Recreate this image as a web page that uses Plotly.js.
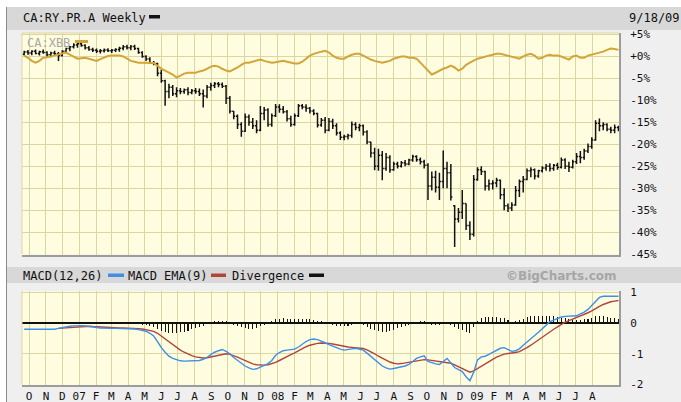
<!DOCTYPE html>
<html><head><meta charset="utf-8">
<script src="https://cdn.plot.ly/plotly-3.0.1.min.js"></script>
<style>html,body{margin:0;padding:0;background:#fff;}#chart{width:681px;height:402px;}</style>
</head><body><div id="chart"></div>
<script>
// ---- data (percent change, weekly bars from 2006-09-22) ----
const firstWeek = '2006-09-22';
const priceOpen = [0.5,1.0,0.8,1.2,0.7,1.1,0.9,0.4,0.8,0.6,
0.2,1.2,1.8,2.2,2.6,2.9,2.5,2.0,1.6,1.4,
1.2,1.3,1.5,1.3,1.4,1.6,1.9,2.2,2.0,2.3,
1.8,0.9,0.0,-0.6,-1.4,-1.6,-3.8,-5.5,-8.0,-7.0,
-8.5,-7.8,-8.0,-7.6,-8.2,-7.8,-8.0,-8.5,-9.0,-7.0,
-6.6,-6.2,-6.4,-6.8,-9.5,-12.5,-13.6,-15.5,-17.0,-13.8,
-15.0,-15.8,-16.8,-13.0,-12.2,-15.5,-13.5,-11.5,-12.0,-12.6,
-14.2,-15.5,-13.5,-11.2,-11.5,-11.8,-12.4,-13.0,-15.6,-14.5,
-16.8,-14.8,-15.8,-17.4,-18.4,-18.2,-18.0,-15.5,-16.2,-15.8,
-17.2,-19.5,-22.0,-25.0,-22.5,-25.5,-23.0,-25.8,-24.5,-25.0,
-24.2,-24.5,-23.6,-22.8,-23.5,-24.0,-24.8,-29.5,-27.5,-29.8,
-28.5,-25.5,-26.5,-34.0,-37.0,-35.5,-33.5,-38.5,-40.5,-28.0,
-25.8,-26.2,-29.5,-29.0,-28.8,-28.2,-31.5,-34.0,-34.5,-33.8,
-30.5,-28.5,-28.0,-26.0,-25.8,-27.2,-26.0,-25.4,-25.0,-25.5,
-24.8,-25.2,-23.6,-25.0,-25.2,-24.0,-22.8,-23.0,-21.5,-20.5,
-19.0,-15.2,-15.8,-15.5,-16.6,-16.8,-16.2];
const priceHigh = [1.3,1.5,1.4,1.6,1.3,1.6,1.2,1.1,1.3,1.0,
1.4,2.0,2.4,3.0,3.2,3.3,2.8,2.4,2.0,1.8,
1.7,1.8,1.9,1.7,1.9,2.2,2.6,2.7,2.6,2.7,
2.0,1.2,0.3,-0.2,-1.0,-1.4,-3.0,-5.3,-6.2,-6.5,
-7.0,-7.2,-7.3,-7.0,-7.4,-7.2,-7.3,-7.5,-6.5,-6.0,
-5.8,-5.8,-5.9,-6.5,-9.0,-12.4,-13.2,-15.0,-13.0,-13.2,
-14.0,-14.5,-11.3,-11.5,-11.8,-13.0,-10.8,-10.9,-11.3,-12.2,
-13.5,-13.0,-10.8,-10.8,-10.9,-11.5,-12.0,-12.8,-14.0,-13.8,
-14.0,-14.2,-15.2,-17.0,-17.8,-17.6,-14.8,-15.0,-15.3,-15.5,
-16.8,-19.4,-20.8,-21.0,-21.5,-22.0,-22.5,-24.0,-24.0,-23.8,
-23.6,-23.3,-22.4,-22.5,-23.0,-23.5,-24.3,-26.2,-26.0,-26.5,
-21.4,-24.0,-24.5,-33.8,-34.5,-30.4,-33.5,-37.5,-27.0,-25.2,
-25.0,-26.0,-28.0,-28.2,-27.6,-28.0,-30.0,-33.5,-33.2,-29.5,
-28.0,-27.2,-25.5,-25.2,-25.5,-25.8,-25.0,-24.5,-24.3,-24.5,
-24.2,-23.0,-23.2,-24.0,-23.5,-22.0,-21.5,-21.0,-19.8,-18.4,
-14.5,-14.1,-15.0,-15.2,-16.0,-15.5,-15.8];
const priceLow = [0.2,0.4,0.3,0.5,0.2,0.6,0.0,-0.2,0.2,-1.0,
0.0,0.8,1.2,1.8,2.0,2.2,1.6,1.3,1.0,0.8,
0.7,0.9,1.0,0.8,1.0,1.1,1.4,1.6,1.4,1.5,
0.6,-0.3,-1.0,-1.6,-2.0,-4.5,-6.0,-11.2,-9.5,-9.0,
-9.3,-8.6,-8.5,-8.8,-8.6,-8.5,-9.0,-11.6,-9.5,-7.8,
-7.2,-7.0,-7.2,-10.8,-13.0,-14.3,-16.5,-18.3,-17.2,-15.8,
-16.5,-17.5,-17.0,-14.5,-16.0,-16.0,-13.8,-12.8,-13.0,-14.8,
-16.0,-15.8,-13.8,-12.0,-12.6,-13.0,-13.4,-16.2,-16.0,-17.5,
-17.0,-16.5,-18.0,-19.0,-19.1,-18.9,-18.5,-16.8,-17.0,-18.0,
-20.0,-23.0,-25.9,-26.0,-28.2,-26.0,-26.5,-26.0,-25.5,-25.3,
-25.0,-24.8,-24.0,-24.0,-24.6,-25.5,-32.7,-30.5,-31.0,-32.7,
-30.0,-30.0,-32.8,-43.4,-37.8,-37.0,-39.5,-41.8,-41.0,-28.3,
-27.0,-30.5,-30.5,-30.3,-29.8,-32.5,-35.0,-35.4,-35.2,-34.0,
-32.0,-31.0,-28.2,-27.5,-28.0,-27.6,-26.4,-26.0,-26.2,-26.0,
-25.8,-25.5,-25.6,-26.3,-25.5,-24.5,-24.3,-23.5,-22.0,-21.0,
-19.2,-17.0,-16.8,-17.0,-17.5,-17.5,-17.0];
const priceClose = [1.0,0.8,1.2,0.7,1.1,0.9,0.4,0.8,0.6,0.2,
1.2,1.8,2.2,2.6,2.9,2.5,2.0,1.6,1.4,1.2,
1.3,1.5,1.3,1.4,1.6,1.9,2.2,2.0,2.3,1.8,
0.9,0.0,-0.6,-1.4,-1.6,-3.8,-5.5,-8.0,-7.0,-8.5,
-7.8,-8.0,-7.6,-8.2,-7.8,-8.0,-8.5,-9.0,-7.0,-6.6,
-6.2,-6.4,-6.8,-9.5,-12.5,-13.6,-15.5,-17.0,-13.8,-15.0,
-15.8,-16.8,-13.0,-12.2,-15.5,-13.5,-11.5,-12.0,-12.6,-14.2,
-15.5,-13.5,-11.2,-11.5,-11.8,-12.4,-13.0,-15.6,-14.5,-16.8,
-14.8,-15.8,-17.4,-18.4,-18.2,-18.0,-15.5,-16.2,-15.8,-17.2,
-19.5,-22.0,-25.0,-22.5,-25.5,-23.0,-25.8,-24.5,-25.0,-24.2,
-24.5,-23.6,-22.8,-23.5,-24.0,-24.8,-29.5,-27.5,-29.8,-28.5,
-25.5,-26.5,-32.0,-37.0,-35.5,-33.5,-38.5,-40.5,-28.0,-25.8,
-26.2,-29.5,-29.0,-28.8,-28.2,-31.5,-34.0,-34.5,-33.8,-30.5,
-28.5,-28.0,-26.0,-25.8,-27.2,-26.0,-25.4,-25.0,-25.5,-24.8,
-25.2,-23.6,-25.0,-25.2,-24.0,-22.8,-23.0,-21.5,-20.5,-19.0,
-15.2,-15.8,-15.5,-16.6,-16.8,-16.2,-16.5];
const xbb = [0.2,-0.3,-1.0,-1.4,-1.0,-0.3,-0.2,0,0.2,0.4,
0.6,0.9,0.4,0,-0.5,-0.4,-0.3,-0.5,-0.7,-1.0,
-0.6,-0.3,0.1,0.2,0.2,0.2,0,-0.5,-1.0,-1.2,
-1.4,-1.4,-1.4,-1.4,-1.5,-2.1,-2.8,-3.2,-3.7,-4.1,
-4.8,-4.4,-3.9,-3.7,-3.7,-3.7,-3.4,-3.2,-2.8,-2.3,
-2.1,-2.3,-2.8,-3.2,-3.4,-3.0,-2.5,-1.9,-1.4,-1.4,
-1.2,-1.0,-0.7,-1.0,-1.2,-1.4,-1.3,-1.2,-1.0,-1.2,
-1.4,-1.6,-1.6,-1.2,-0.5,0.2,0.6,0.9,1.1,1.3,
0.9,0.2,-0.3,-0.5,-0.5,0,0.4,0.6,0.6,0.2,
-0.3,-0.7,-1.0,-1.2,-1.4,-1.2,-1.0,-0.5,-0.3,0,
0,-0.3,-0.3,-0.5,-1.4,-2.3,-3.4,-4.1,-3.7,-3.2,
-2.8,-2.5,-2.1,-2.5,-3.2,-2.8,-1.9,-1.4,-1.0,-0.5,
-0.3,0,0.2,0.4,0.6,0.6,0.4,0.2,0,-0.3,
-0.5,0,0.4,0.6,0.2,-0.5,-0.3,0.2,0.4,0.2,
0.2,0,-0.3,-0.7,0,0.2,-0.3,-0.3,0.2,0.4,
0.6,0.9,1.1,1.5,1.8,1.7,1.5];
const macd = [-0.20,-0.20,-0.20,-0.20,-0.20,-0.20,-0.20,-0.20,-0.20,-0.17,
-0.14,-0.12,-0.10,-0.09,-0.08,-0.08,-0.09,-0.10,-0.12,-0.14,
-0.16,-0.17,-0.17,-0.17,-0.17,-0.17,-0.17,-0.17,-0.17,-0.19,
-0.21,-0.23,-0.27,-0.33,-0.42,-0.60,-0.80,-0.95,-1.08,-1.15,
-1.20,-1.23,-1.24,-1.24,-1.24,-1.23,-1.22,-1.18,-1.12,-1.03,
-0.95,-0.90,-0.86,-0.92,-1.00,-1.12,-1.22,-1.32,-1.40,-1.46,
-1.51,-1.49,-1.43,-1.38,-1.32,-1.22,-1.05,-0.96,-0.90,-0.88,
-0.86,-0.85,-0.78,-0.68,-0.60,-0.54,-0.52,-0.54,-0.58,-0.64,
-0.70,-0.75,-0.81,-0.85,-0.88,-0.87,-0.84,-0.82,-0.84,-0.88,
-0.98,-1.08,-1.18,-1.30,-1.40,-1.46,-1.50,-1.48,-1.46,-1.44,
-1.40,-1.35,-1.25,-1.15,-1.10,-1.07,-1.25,-1.30,-1.33,-1.35,
-1.25,-1.15,-1.30,-1.45,-1.52,-1.58,-1.75,-1.88,-1.60,-1.20,
-1.10,-1.08,-1.02,-0.96,-0.90,-0.82,-0.80,-0.86,-0.92,-0.90,
-0.84,-0.72,-0.62,-0.50,-0.40,-0.30,-0.18,-0.05,0.05,0.10,
0.15,0.20,0.22,0.22,0.22,0.24,0.30,0.36,0.45,0.58,
0.72,0.84,0.88,0.88,0.88,0.88,0.88];
const macdEma = [null,null,null,null,null,null,null,null,null,-0.17,
-0.16,-0.15,-0.13,-0.12,-0.11,-0.10,-0.10,-0.10,-0.11,-0.12,
-0.13,-0.14,-0.15,-0.16,-0.16,-0.16,-0.16,-0.16,-0.16,-0.17,
-0.18,-0.19,-0.21,-0.23,-0.27,-0.33,-0.42,-0.52,-0.62,-0.72,
-0.80,-0.88,-0.95,-1.01,-1.06,-1.10,-1.13,-1.14,-1.13,-1.10,
-1.07,-1.04,-1.01,-1.00,-1.02,-1.06,-1.11,-1.17,-1.23,-1.29,
-1.33,-1.36,-1.37,-1.37,-1.36,-1.33,-1.28,-1.22,-1.15,-1.09,
-1.03,-0.97,-0.90,-0.84,-0.77,-0.72,-0.68,-0.66,-0.65,-0.65,
-0.66,-0.68,-0.71,-0.74,-0.76,-0.78,-0.79,-0.80,-0.81,-0.83,
-0.87,-0.93,-1.00,-1.08,-1.15,-1.22,-1.27,-1.31,-1.33,-1.32,
-1.30,-1.28,-1.26,-1.23,-1.20,-1.19,-1.20,-1.22,-1.24,-1.26,
-1.27,-1.28,-1.31,-1.36,-1.42,-1.48,-1.54,-1.60,-1.56,-1.48,
-1.40,-1.32,-1.25,-1.18,-1.11,-1.05,-1.01,-0.99,-0.98,-0.96,
-0.93,-0.87,-0.80,-0.72,-0.63,-0.55,-0.46,-0.37,-0.28,-0.20,
-0.12,-0.04,0.03,0.08,0.13,0.17,0.22,0.28,0.34,0.40,
0.48,0.55,0.61,0.66,0.70,0.72,0.74];
const divergence = [0,0,0,0,0,0,0,0,0,0,
0,0,0,0.04,0.05,0.05,0.04,0.02,-0.02,-0.03,
-0.04,-0.04,-0.04,-0.03,-0.03,-0.03,-0.02,-0.03,-0.03,-0.04,
-0.04,-0.05,-0.06,-0.08,-0.12,-0.18,-0.24,-0.30,-0.33,-0.33,
-0.32,-0.30,-0.28,-0.24,-0.20,-0.16,-0.12,-0.08,-0.03,0.04,
0.07,0.08,0.08,0.06,0.02,-0.06,-0.10,-0.14,-0.16,-0.18,
-0.18,-0.15,-0.10,-0.05,0.02,0.08,0.12,0.15,0.16,0.15,
0.14,0.13,0.13,0.14,0.12,0.12,0.10,0.08,0.06,0.02,
-0.03,-0.06,-0.08,-0.09,-0.10,-0.08,-0.05,-0.04,-0.04,-0.06,
-0.12,-0.18,-0.22,-0.26,-0.28,-0.28,-0.26,-0.22,-0.16,-0.12,
-0.08,-0.05,0.02,0.05,0.07,0.06,-0.02,-0.05,-0.06,-0.07,
0.02,0.04,-0.05,-0.12,-0.18,-0.22,-0.28,-0.33,-0.12,0.08,
0.18,0.20,0.20,0.19,0.19,0.18,0.16,0.10,0.05,0.06,
0.10,0.14,0.19,0.22,0.24,0.24,0.24,0.24,0.24,0.22,
0.20,0.18,0.16,0.14,0.11,0.10,0.10,0.12,0.14,0.18,
0.22,0.24,0.22,0.20,0.18,0.16,0.14];
const monthLabels = ['O','N','D','07','F','M','A','M','J','J','A','S','O','N','D','08','F','M','A','M','J','J','A','S','O','N','D','09','F','M','A','M','J','J','A'];
const firstMonth = [2006, 9]; // Oct 2006 (0-based month)
const pctTicks = [5,0,-5,-10,-15,-20,-25,-30,-35,-40,-45];
const pctLabels = ['+5%','+0%','-5%','-10%','-15%','-20%','-25%','-30%','-35%','-40%','-45%'];
const macdTicks = [1,0,-1,-2];
const macdLabels = ['1','0','-1','-2'];

// ---- build dates ----
function iso(t){return new Date(t).toISOString().slice(0,10);}
const t0 = Date.parse(firstWeek + 'T00:00:00Z');
const weeks = priceClose.map((_, i) => iso(t0 + i*7*86400000));
const monthTicks = monthLabels.map((_, k) => iso(Date.UTC(firstMonth[0], firstMonth[1] + k, 1)));

// ---- geometry helpers (pixels -> paper) ----
const W = 681, H = 402;
const px = v => v / W, py = v => 1 - v / H;
const L = 22, R = 619;
const xRange = ['2006-09-18', '2009-09-19'];
const MONO = 'DejaVu Sans Mono';
const GRID = '#ddd6a2', BG = '#fffde0', EDGE = '#9c9c9c';
const GOLD = '#d3a538', BLUE = '#3d8fe8', RED = '#b0453a';

const traces = [
  {type:'scatter', mode:'lines', x:weeks, y:xbb, xaxis:'x2', yaxis:'y2',
   line:{color:GOLD, width:2}, hoverinfo:'skip', showlegend:false},
  {type:'ohlc', x:weeks, open:priceOpen, high:priceHigh, low:priceLow, close:priceClose,
   xaxis:'x2', yaxis:'y2', tickwidth:0.4,
   increasing:{line:{color:'#111', width:1.5}}, decreasing:{line:{color:'#111', width:1.5}},
   hoverinfo:'skip', showlegend:false},
  {type:'bar', x:weeks, y:divergence, xaxis:'x', yaxis:'y',
   marker:{color:'#111', line:{width:0}}, width:weeks.map(()=>1.9*86400000),
   hoverinfo:'skip', showlegend:false},
  {type:'scatter', mode:'lines', x:weeks, y:macdEma, xaxis:'x', yaxis:'y',
   line:{color:RED, width:1.4}, hoverinfo:'skip', showlegend:false},
  {type:'scatter', mode:'lines', x:weeks, y:macd, xaxis:'x', yaxis:'y',
   line:{color:BLUE, width:1.4}, hoverinfo:'skip', showlegend:false}
];

const ann = (t, x, y, opts={}) => Object.assign({text:t, x:px(x), y:py(y), xref:'paper', yref:'paper',
  showarrow:false, xanchor:'left', yanchor:'middle', font:{family:MONO, size:12, color:'#111'}}, opts);
const rect = (x0,y0,x1,y1,fill) => ({type:'rect', xref:'paper', yref:'paper', x0:px(x0), x1:px(x1), y0:py(y1), y1:py(y0), fillcolor:fill, line:{width:0}, layer:'below'});
const line = (x0,y0,x1,y1,color,w) => ({type:'line', xref:'paper', yref:'paper', x0:px(x0), x1:px(x1), y0:py(y0), y1:py(y1), line:{color:color, width:w}});

const layout = {
  width:W, height:H, margin:{l:0,r:0,t:0,b:0},
  paper_bgcolor:'#efefef', plot_bgcolor:BG, bargap:0, showlegend:false,
  xaxis2:{domain:[px(L), px(R)], anchor:'y2', type:'date', range:xRange,
    tickvals:monthTicks, showticklabels:false, ticks:'', gridcolor:GRID, gridwidth:1,
    showline:true, linecolor:EDGE, linewidth:2, rangeslider:{visible:false}, fixedrange:true},
  yaxis2:{domain:[py(254.5), py(33)], anchor:'x2', side:'right', range:[-45.1, 5.35],
    tickvals:pctTicks, ticktext:pctLabels, ticks:'', gridcolor:GRID, gridwidth:1, zeroline:false,
    showline:true, linecolor:EDGE, linewidth:2, ticklabelstandoff:7,
    tickfont:{family:MONO, size:11, color:'#111'}, fixedrange:true},
  xaxis:{domain:[px(L), px(R)], anchor:'y', type:'date', range:xRange,
    tickvals:monthTicks, ticktext:monthLabels, ticks:'', gridcolor:GRID, gridwidth:1,
    showline:true, linecolor:EDGE, linewidth:2, tickangle:0,
    tickfont:{family:MONO, size:11, color:'#111'}, fixedrange:true},
  yaxis:{domain:[py(385), py(291)], anchor:'x', side:'right', range:[-2.02, 1.05],
    tickvals:macdTicks, ticktext:macdLabels, ticks:'', gridcolor:GRID, gridwidth:1,
    zeroline:true, zerolinecolor:'#111', zerolinewidth:1.5,
    showline:true, linecolor:EDGE, linewidth:2, ticklabelstandoff:7,
    tickfont:{family:MONO, size:11, color:'#111'}, fixedrange:true},
  shapes:[
    rect(0,0,W,7,'#ffffff'),
    rect(0,0,6,H,'#ffffff'),
    rect(6,7,W,30,'#d8d8d8'),
    rect(6,267,W,283,'#d8d8d8'),
    line(6.5,7,6.5,H,'#8a8a8a',1),
    line(L,33,R,33,GRID,1),
    line(L,33,L,254,GRID,1),
    line(L,291,L,385,GRID,1),
    {type:'rect', xref:'paper', yref:'paper', x0:px(149), x1:px(160), y0:py(18.5), y1:py(15), fillcolor:'#111', line:{width:0}},
    {type:'rect', xref:'paper', yref:'paper', x0:px(75), x1:px(88), y0:py(43), y1:py(40), fillcolor:GOLD, line:{width:0}},
    {type:'rect', xref:'paper', yref:'paper', x0:px(108), x1:px(124), y0:py(277), y1:py(273.5), fillcolor:BLUE, line:{width:0}},
    {type:'rect', xref:'paper', yref:'paper', x0:px(211), x1:px(226), y0:py(277), y1:py(273.5), fillcolor:RED, line:{width:0}},
    {type:'rect', xref:'paper', yref:'paper', x0:px(309), x1:px(324), y0:py(277), y1:py(273.5), fillcolor:'#111', line:{width:0}}
  ],
  annotations:[
    ann('CA:RY.PR.A Weekly', 21, 17.5),
    ann('9/18/09', 627, 17.5),
    ann('CA:XBB', 25, 43, {font:{family:MONO, size:12, color:'#a8a8a8'}}),
    ann('MACD(12,26)', 21, 275.5),
    ann('MACD EMA(9)', 126, 275.5),
    ann('Divergence', 230, 275.5),
    ann('©BigCharts.com', 619, 275.5, {xanchor:'right', font:{family:'DejaVu Sans', size:12, color:'#a6a6a6', weight:'bold'}})
  ]
};

Plotly.newPlot('chart', traces, layout, {staticPlot:true, displayModeBar:false});
</script>
</body></html>
